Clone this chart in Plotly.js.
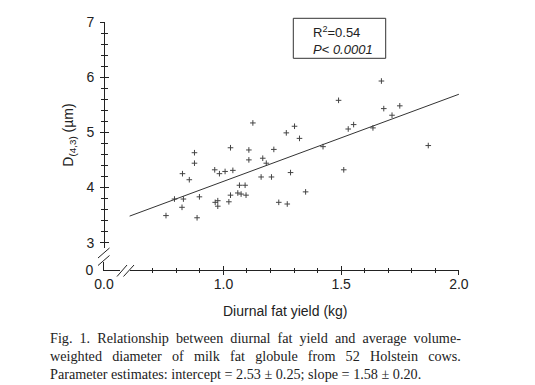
<!DOCTYPE html>
<html>
<head>
<meta charset="utf-8">
<script src="https://cdn.plot.ly/plotly-3.0.1.min.js"></script>
<style>html,body{margin:0;padding:0;background:#fff;}#chart{width:535px;height:385px;}</style>
</head>
<body>
<div id="chart"></div>
<script>
// ---- data ----
const fatYieldKg = [0.756,0.792,0.830,0.824,0.826,0.855,0.877,0.877,0.898,0.888,
  0.963,0.983,1.007,1.040,1.030,0.965,0.976,0.976,1.023,1.030,
  1.068,1.092,1.061,1.075,1.096,1.108,1.108,1.125,1.160,1.167,
  1.182,1.204,1.214,1.235,1.271,1.267,1.302,1.323,1.285,1.349,
  1.423,1.489,1.511,1.530,1.553,1.635,1.671,1.681,1.716,1.749,1.870];
const d43um = [3.49,3.79,3.79,3.64,4.25,4.14,4.63,4.44,3.83,3.45,
  4.32,4.25,4.29,4.31,4.72,3.73,3.76,3.66,3.74,3.86,
  4.04,4.04,3.90,3.88,3.86,4.68,4.50,5.17,4.19,4.53,
  4.44,4.19,4.69,3.73,3.70,4.99,5.11,4.89,4.27,3.92,
  4.74,5.58,4.32,5.06,5.14,5.08,5.93,5.43,5.31,5.48,4.76];
const fitIntercept = 2.53, fitInterceptSE = 0.25;
const fitSlope = 1.58, fitSlopeSE = 0.20;
const fitXRange = [0.6, 2.0];
const rSquared = 0.54;
const pText = '0.0001';
const nCows = 52;
const xTitle = 'Diurnal fat yield (kg)';
const yTitle = 'D<sub>(4,3)</sub> (µm)';

// ---- layout geometry (pixels) ----
const L = 104, T = 22, W = 355, H = 248;
const px = v => (v - L) / W;          // pixel x -> paper x
const py = v => (T + H - v) / H;      // pixel y -> paper y

const fitY = fitXRange.map(x => fitIntercept + fitSlope * x);

const axColor = '#222';
const tickFont = {family: 'Liberation Sans, Arial, sans-serif', size: 14, color: axColor};
const xRange = [0.601, 2.0005];
const yRange = [2.902, 7.0005];

const traces = [
  {type: 'scatter', mode: 'markers', x: fatYieldKg, y: d43um,
   marker: {symbol: 'cross-thin-open', size: 4, line: {width: 1, color: '#444'}, color: '#444'},
   hoverinfo: 'x+y', showlegend: false},
  {type: 'scatter', mode: 'lines', x: fitXRange, y: fitY,
   line: {color: '#333', width: 1}, hoverinfo: 'skip', showlegend: false},
  {type: 'scatter', x: [], y: [], xaxis: 'x2', yaxis: 'y2', showlegend: false, hoverinfo: 'skip'},
  {type: 'scatter', x: [], y: [], xaxis: 'x3', yaxis: 'y3', showlegend: false, hoverinfo: 'skip'}
];

const common = {showgrid: false, zeroline: false, linecolor: axColor, linewidth: 1,
  tickcolor: axColor, tickwidth: 1, tickfont: tickFont};

const layout = {
  width: 535, height: 385,
  margin: {l: L, r: 535 - L - W, t: T, b: 385 - T - H, pad: 0},
  paper_bgcolor: '#fff', plot_bgcolor: '#fff',
  showlegend: false,
  xaxis: Object.assign({}, common, {
    domain: [px(129.5), 1], range: xRange, anchor: 'free', position: 0,
    showline: true, ticks: 'outside', ticklen: 4, tick0: 0, dtick: 0.5, tickformat: '.1f',
    ticklabelstandoff: -3,
    minor: {dtick: 0.1, tick0: 0, ticks: 'outside', ticklen: 2, tickcolor: axColor, tickwidth: 1, showgrid: false}
  }),
  yaxis: Object.assign({}, common, {
    domain: [py(248), 1], range: yRange, anchor: 'free', position: 0,
    showline: true, ticks: 'outside', ticklen: 4, tick0: 0, dtick: 1,
    ticklabelstandoff: 3,
    minor: {dtick: 0.2, tick0: 0, ticks: 'outside', ticklen: 3, tickcolor: axColor, tickwidth: 1, showgrid: false},
    title: {text: yTitle, font: tickFont, standoff: 8}
  }),
  xaxis3: Object.assign({}, common, {
    overlaying: 'x', range: xRange, anchor: 'free', position: 0,
    showline: false, showticklabels: false, ticks: 'inside', ticklen: 4, tick0: 0, dtick: 0.5,
    minor: {dtick: 0.1, tick0: 0, ticks: 'inside', ticklen: 2, tickcolor: axColor, tickwidth: 1, showgrid: false}
  }),
  yaxis3: Object.assign({}, common, {
    overlaying: 'y', range: yRange, anchor: 'free', position: 0,
    showline: false, showticklabels: false, ticks: 'inside', ticklen: 4, tick0: 0, dtick: 1,
    minor: {dtick: 0.2, tick0: 0, ticks: 'inside', ticklen: 3, tickcolor: axColor, tickwidth: 1, showgrid: false}
  }),
  xaxis2: Object.assign({}, common, {
    domain: [0, px(120)], range: [0, 0.07], anchor: 'y2',
    showline: true, ticks: '', tickvals: [0], tickformat: '.1f', ticklabelstandoff: 1
  }),
  yaxis2: Object.assign({}, common, {
    domain: [0, py(262)], range: [0, 0.15], anchor: 'x2',
    showline: true, ticks: '', tickvals: [0], ticklabelstandoff: 7
  }),
  shapes: [
    // axis-break marks
    {type: 'line', xref: 'paper', yref: 'paper', x0: px(117), y0: py(276.5), x1: px(127), y1: py(265), line: {color: axColor, width: 1}},
    {type: 'line', xref: 'paper', yref: 'paper', x0: px(123.5), y0: py(276.5), x1: px(134), y1: py(265), line: {color: axColor, width: 1}},
    {type: 'line', xref: 'paper', yref: 'paper', x0: px(98), y0: py(258), x1: px(109.5), y1: py(248), line: {color: axColor, width: 1}},
    {type: 'line', xref: 'paper', yref: 'paper', x0: px(98), y0: py(265.5), x1: px(109.5), y1: py(255.5), line: {color: axColor, width: 1}},
    // statistics box
    {type: 'rect', xref: 'paper', yref: 'paper', x0: px(293.3), y0: py(58.3), x1: px(385.7), y1: py(18.3), line: {color: '#333', width: 1}, fillcolor: 'rgba(0,0,0,0)'}
  ],
  annotations: [
    {xref: 'paper', yref: 'paper', x: px(285.8), y: py(310.5), xanchor: 'center', yanchor: 'middle',
     showarrow: false, borderpad: 0, font: tickFont, text: xTitle},
    {xref: 'paper', yref: 'paper', x: px(312), y: py(40.5), xanchor: 'left', yanchor: 'middle', align: 'left',
     showarrow: false, borderpad: 0,
     font: {family: 'Liberation Sans, Arial, sans-serif', size: 13, color: axColor},
     text: 'R<sup>2</sup>=' + rSquared.toFixed(2) + '<br><i>P</i>&lt; <i>' + pText + '</i>'},
    {xref: 'paper', yref: 'paper', x: px(49), y: py(338.3), xanchor: 'left', yanchor: 'middle', showarrow: false, borderpad: 0,
     font: {family: 'Liberation Serif, Times New Roman, serif', size: 14.2, color: '#222'},
     text: '<span style="word-spacing:3.5px">Fig. 1. Relationship between diurnal fat yield and average volume-</span>'},
    {xref: 'paper', yref: 'paper', x: px(49), y: py(356), xanchor: 'left', yanchor: 'middle', showarrow: false, borderpad: 0,
     font: {family: 'Liberation Serif, Times New Roman, serif', size: 14.2, color: '#222'},
     text: '<span style="word-spacing:6.6px">weighted diameter of milk fat globule from ' + nCows + ' Holstein cows.</span>'},
    {xref: 'paper', yref: 'paper', x: px(49), y: py(374), xanchor: 'left', yanchor: 'middle', showarrow: false, borderpad: 0,
     font: {family: 'Liberation Serif, Times New Roman, serif', size: 14.2, color: '#222'},
     text: 'Parameter estimates: intercept = ' + fitIntercept.toFixed(2) + ' ± ' + fitInterceptSE.toFixed(2) +
           '; slope = ' + fitSlope.toFixed(2) + ' ± ' + fitSlopeSE.toFixed(2) + '.'}
  ]
};

Plotly.newPlot('chart', traces, layout, {displayModeBar: false, staticPlot: true});
</script>
</body>
</html>
